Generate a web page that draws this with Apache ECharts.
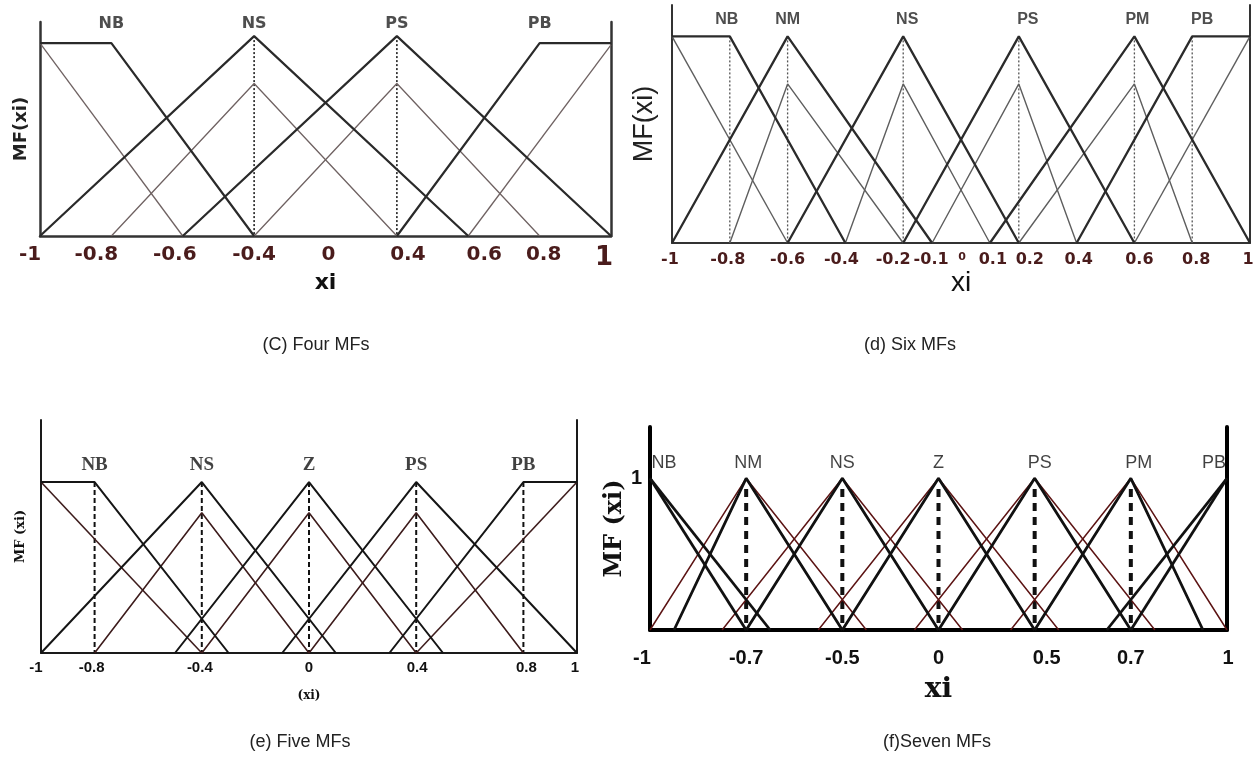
<!DOCTYPE html>
<html><head><meta charset="utf-8">
<script src="https://cdn.jsdelivr.net/npm/echarts@6/dist/echarts.min.js"></script>
<style>html,body{margin:0;padding:0;background:#fff}#c{width:1259px;height:766px}</style>
</head><body><div id="c"></div>
<script>
// ===== Panel (C) Four MFs  (tick labels evenly spaced on the drawing) =====
const cTicks = [-1, -0.8, -0.6, -0.4, 0, 0.4, 0.6, 0.8, 1];
const cNames = ['NB', 'NS', 'PS', 'PB'];
const cNameX = [-0.8, -0.4, 0.4, 0.8];
const cBlack = [
  [[-1, 1], [-0.8, 1], [-0.4, 0]],
  [[-1, 0], [-0.4, 1.036], [0.6, 0]],
  [[-0.6, 0], [0.4, 1.036], [1, 0]],
  [[0.4, 0], [0.8, 1], [1, 1]]
];
const cGray = [
  [[-1, 1], [-0.6, 0]],
  [[-0.8, 0], [-0.4, 0.79], [0.4, 0]],
  [[-0.4, 0], [0.4, 0.79], [0.8, 0]],
  [[0.6, 0], [1, 0.99]]
];
const cDotted = [-0.4, 0.4];

// ===== Panel (d) Six MFs  (linear xi axis) =====
const dTicks = [-1, -0.8, -0.6, -0.4, -0.2, -0.1, 0, 0.1, 0.2, 0.4, 0.6, 0.8, 1];
const dNames = ['NB', 'NM', 'NS', 'PS', 'PM', 'PB'];
const dNameX = [-0.8, -0.6, -0.2, 0.2, 0.6, 0.8];
const dBlack = [
  [[-1, 1], [-0.8, 1], [-0.4, 0]],
  [[-1, 0], [-0.6, 1], [-0.1, 0]],
  [[-0.6, 0], [-0.2, 1], [0.2, 0]],
  [[-0.2, 0], [0.2, 1], [0.6, 0]],
  [[0.1, 0], [0.6, 1], [1, 0]],
  [[0.4, 0], [0.8, 1], [1, 1]]
];
const dGray = [
  [[-1, 1], [-0.6, 0]],
  [[-0.8, 0], [-0.6, 0.77], [-0.2, 0]],
  [[-0.4, 0], [-0.2, 0.77], [0.1, 0]],
  [[-0.1, 0], [0.2, 0.77], [0.4, 0]],
  [[0.2, 0], [0.6, 0.77], [0.8, 0]],
  [[0.6, 0], [1, 1]]
];
const dDotted = [-0.8, -0.6, -0.2, 0.2, 0.6, 0.8];

// ===== Panel (e) Five MFs  (linear xi axis) =====
const eTicks = [-1, -0.8, -0.4, 0, 0.4, 0.8, 1];
const eNames = ['NB', 'NS', 'Z', 'PS', 'PB'];
const eNameX = [-0.8, -0.4, 0, 0.4, 0.8];
const eBlack = [
  [[-1, 1], [-0.8, 1], [-0.3, 0]],
  [[-1, 0], [-0.4, 1], [0.1, 0]],
  [[-0.5, 0], [0, 1], [0.5, 0]],
  [[-0.1, 0], [0.4, 1], [1, 0]],
  [[0.3, 0], [0.8, 1], [1, 1]]
];
const eBrown = [
  [[-1, 1], [-0.4, 0]],
  [[-0.8, 0], [-0.4, 0.82], [0, 0]],
  [[-0.4, 0], [0, 0.82], [0.4, 0]],
  [[0, 0], [0.4, 0.82], [0.8, 0]],
  [[0.4, 0], [1, 1]]
];
const eDashed = [-0.8, -0.4, 0, 0.4, 0.8];

// ===== Panel (f) Seven MFs  (tick labels evenly spaced on the drawing) =====
const fTicks = [-1, -0.7, -0.5, 0, 0.5, 0.7, 1];
const fNames = ['NB', 'NM', 'NS', 'Z', 'PS', 'PM', 'PB'];
const fNameX = [-1, -0.7, -0.5, 0, 0.5, 0.7, 1];
const fBlack = [
  [[-1, 1], [-0.7, 0]],
  [[-1, 1], [-0.65, 0]],
  [[-0.925, 0], [-0.7, 1], [-0.5, 0]],
  [[-0.7, 0], [-0.5, 1], [0, 0]],
  [[-0.5, 0], [0, 1], [0.5, 0]],
  [[0, 0], [0.5, 1], [0.7, 0]],
  [[0.5, 0], [0.7, 1], [0.925, 0]],
  [[0.65, 0], [1, 1]],
  [[0.7, 0], [1, 1]]
];
const fBrown = [
  [[-1, 0], [-0.7, 1], [-0.375, 0]],
  [[-0.775, 0], [-0.5, 1], [0.125, 0]],
  [[-0.55, 0], [0, 1], [0.55, 0]],
  [[-0.125, 0], [0.5, 1], [0.775, 0]],
  [[0.375, 0], [0.7, 1], [1, 0]]
];
const fDashed = [-0.7, -0.5, 0, 0.5, 0.7];
const fDashedTop = 0.93;

// ---------- helpers ----------
function ordinal(ticks) {
  return function (v) {
    for (let i = 0; i < ticks.length - 1; i++) {
      if (v >= ticks[i] - 1e-9 && v <= ticks[i + 1] + 1e-9) {
        return i + (v - ticks[i]) / (ticks[i + 1] - ticks[i]);
      }
    }
    return v < ticks[0] ? 0 : ticks.length - 1;
  };
}
const ident = v => v;

function fmtNum(v) { return String(v); }

function tickAxis(ticks, map, base, nudges, special) {
  const vals = ticks.map(map);
  const rich = {};
  ticks.forEach((t, i) => {
    const n = (nudges && nudges[i]) || 0;
    rich['t' + i] = Object.assign({}, base, (special && special[i]) || {},
      { padding: n >= 0 ? [0, 0, 0, 2 * n] : [0, -2 * n, 0, 0] });
  });
  return {
    show: true,
    customValues: vals,
    rich: rich,
    formatter: function (v) {
      let k = 0, best = 1e9;
      vals.forEach((x, i) => { if (Math.abs(x - v) < best) { best = Math.abs(x - v); k = i; } });
      return '{t' + k + '|' + fmtNum(ticks[k]) + '}';
    }
  };
}

const series = [];
function addLines(g, sets, map, ls, z) {
  sets.forEach(pts => {
    series.push({
      type: 'line', xAxisIndex: g, yAxisIndex: 2 * g, symbol: 'none', silent: true,
      animation: false, z: z, lineStyle: ls,
      data: pts.map(p => [map(p[0]), p[1]])
    });
  });
}
function addVerticals(g, xs, top, map, ls) {
  xs.forEach(x => {
    series.push({
      type: 'line', xAxisIndex: g, yAxisIndex: 2 * g, symbol: 'none', silent: true,
      animation: false, z: 1, lineStyle: ls,
      data: [[map(x), top], [map(x), 0]]
    });
  });
}
function addNames(g, names, xs, y, map, font, offsets) {
  series.push({
    type: 'scatter', xAxisIndex: g, yAxisIndex: 2 * g, symbolSize: 0, silent: true,
    animation: false, z: 5,
    data: names.map((n, i) => ({
      name: n, value: [map(xs[i]), y],
      label: { offset: [(offsets && offsets[i]) || 0, 0] }
    })),
    label: Object.assign({ show: true, position: 'inside', formatter: p => p.name }, font)
  });
}

const mapC = ordinal(cTicks), mapF = ordinal(fTicks);

// (C)
addLines(0, cGray, mapC, { color: '#6f6262', width: 1.3 }, 2);
addLines(0, cBlack, mapC, { color: '#2a2a2a', width: 2.2 }, 3);
addVerticals(0, cDotted, 1.036, mapC, { color: '#222', width: 1.6, type: [2, 2] });
addNames(0, cNames, cNameX, 1.10, mapC,
  { fontFamily: 'DejaVu Sans', fontWeight: 'bold', fontSize: 16, color: '#222' });
// (d)
addLines(1, dGray, ident, { color: '#5e5e5e', width: 1.4 }, 2);
addLines(1, dBlack, ident, { color: '#2b2b2b', width: 2.3 }, 3);
addVerticals(1, dDotted, 1, ident, { color: '#555', width: 1.3, type: [2, 2] });
addNames(1, dNames, dNameX, 1.08, ident,
  { fontFamily: 'Liberation Sans', fontWeight: 'bold', fontSize: 16, color: '#222' },
  [-3, 0, 4, 9, 3, 10]);
// (e)
addLines(2, eBrown, ident, { color: '#3d1c1c', width: 1.6 }, 2);
addLines(2, eBlack, ident, { color: '#151515', width: 2 }, 3);
addVerticals(2, eDashed, 1, ident, { color: '#111', width: 2, type: [5, 3] });
addNames(2, eNames, eNameX, 1.10, ident,
  { fontFamily: 'Liberation Serif', fontWeight: 'bold', fontSize: 19, color: '#111' });
// (f)
addLines(3, fBrown, mapF, { color: '#5c1414', width: 1.5 }, 2);
addLines(3, fBlack, mapF, { color: '#111', width: 2.8 }, 3);
addVerticals(3, fDashed, fDashedTop, mapF, { color: '#111', width: 4, type: [8, 6] });
addNames(3, fNames, fNameX, 1.10, mapF,
  { fontFamily: 'Liberation Sans', fontSize: 18, color: '#111' },
  [14, 2, 0, 0, 5, 8, -13]);

// ---------- axes ----------
const maroon = '#4a1c1c';
const grids = [
  { left: 40, top: 22, width: 571, height: 214 },
  { left: 672, top: 5, width: 578, height: 238 },
  { left: 41, top: 420, width: 536, height: 233 },
  { left: 650, top: 427, width: 577, height: 203 }
];
const yMax = [1.109, 1.152, 1.363, 1.338];
const axisCol = ['#333', '#333', '#1a1a1a', '#000'];
const axisW = [2.5, 2, 2, 4];

const cBase = { fontFamily: 'DejaVu Sans', fontWeight: 'bold', fontSize: 20, color: maroon };
const dBase = { fontFamily: 'DejaVu Sans', fontWeight: 'bold', fontSize: 16, color: maroon };
const eBase = { fontFamily: 'Liberation Sans', fontWeight: 'bold', fontSize: 15, color: '#111' };
const fBase = { fontFamily: 'Liberation Sans', fontWeight: 'bold', fontSize: 20, color: '#111' };

const xLabels = [
  Object.assign(tickAxis(cTicks, mapC, cBase, [-10, -15, -8, 0, 3, 11, 16, 4, -7], { 8: { fontSize: 26 } }), { margin: 9 }),
  Object.assign(tickAxis(dTicks, ident, dBase, [-2, -2, 0, -4, -10, -1, 1, 3, 11, 2, 5, 4, -2], { 6: { fontSize: 11 } }), { margin: 9 }),
  Object.assign(tickAxis(eTicks, ident, eBase, [-5, -3, -2, 0, 1, 3, -2]), { margin: 7 }),
  Object.assign(tickAxis(fTicks, mapF, fBase, [-8, 0, 0, 0, 12, 0, 1]), { margin: 18 })
];
const xRange = [[0, 8], [-1, 1], [-1, 1], [0, 6]];
const xNames = [
  { name: 'xi', gap: 36, font: { fontFamily: 'DejaVu Sans', fontWeight: 'bold', fontSize: 22, color: '#111' } },
  { name: 'xi', gap: 24, font: { fontFamily: 'Liberation Sans', fontSize: 28, color: '#111' } },
  { name: '(xi)', gap: 37, font: { fontFamily: 'DejaVu Serif', fontWeight: 'bold', fontSize: 12, color: '#111' } },
  { name: 'xi', gap: 46, font: { fontFamily: 'DejaVu Serif', fontWeight: 'bold', fontSize: 28, color: '#111' } }
];
const yNames = [
  { name: 'MF(xi)', gap: 10, font: { fontFamily: 'DejaVu Sans', fontWeight: 'bold', fontSize: 18, color: '#222' } },
  { name: 'MF(xi)', gap: 14, font: { fontFamily: 'Liberation Sans', fontSize: 27, color: '#222' } },
  { name: 'MF (xi)', gap: 14, font: { fontFamily: 'DejaVu Serif', fontWeight: 'bold', fontSize: 13, color: '#111' } },
  { name: 'MF (xi)', gap: 16, font: { fontFamily: 'DejaVu Serif', fontWeight: 'bold', fontSize: 24, color: '#111' } }
];

const xAxis = [], yAxis = [];
grids.forEach((g, i) => {
  const line = { show: true, onZero: false, lineStyle: { color: axisCol[i], width: axisW[i] } };
  xAxis.push({
    type: 'value', gridIndex: i, min: xRange[i][0], max: xRange[i][1],
    axisLine: line, axisTick: { show: false }, splitLine: { show: false },
    axisLabel: xLabels[i],
    name: xNames[i].name, nameLocation: 'middle', nameGap: xNames[i].gap, nameTextStyle: xNames[i].font
  });
  yAxis.push({
    type: 'value', gridIndex: i, min: 0, max: yMax[i], position: 'left',
    axisLine: line, axisTick: { show: false }, splitLine: { show: false },
    axisLabel: i === 3
      ? { show: true, customValues: [1], formatter: () => '1', margin: 8,
          fontFamily: 'Liberation Sans', fontWeight: 'bold', fontSize: 20, color: '#111' }
      : { show: false },
    name: yNames[i].name, nameLocation: 'middle', nameRotate: 90, nameGap: yNames[i].gap,
    nameTextStyle: yNames[i].font
  });
  yAxis.push({
    type: 'value', gridIndex: i, min: 0, max: yMax[i], position: 'right',
    axisLine: line, axisTick: { show: false }, splitLine: { show: false },
    axisLabel: { show: false }
  });
});

// ---------- captions ----------
const captions = [
  ['(C) Four MFs', 316, 345],
  ['(d) Six MFs', 910, 345],
  ['(e) Five MFs', 300, 742],
  ['(f)Seven MFs', 937, 742]
];

const chart = echarts.init(document.getElementById('c'), null, { renderer: 'canvas' });
chart.setOption({
  backgroundColor: '#ffffff',
  animation: false,
  grid: grids,
  xAxis: xAxis,
  yAxis: yAxis,
  series: series,
  graphic: captions.map(c => ({
    type: 'text', x: c[1], y: c[2], silent: true,
    style: { text: c[0], fill: '#222', font: '18px "Liberation Sans", Arial, sans-serif',
             align: 'center', verticalAlign: 'middle' }
  }))
});
</script></body></html>
